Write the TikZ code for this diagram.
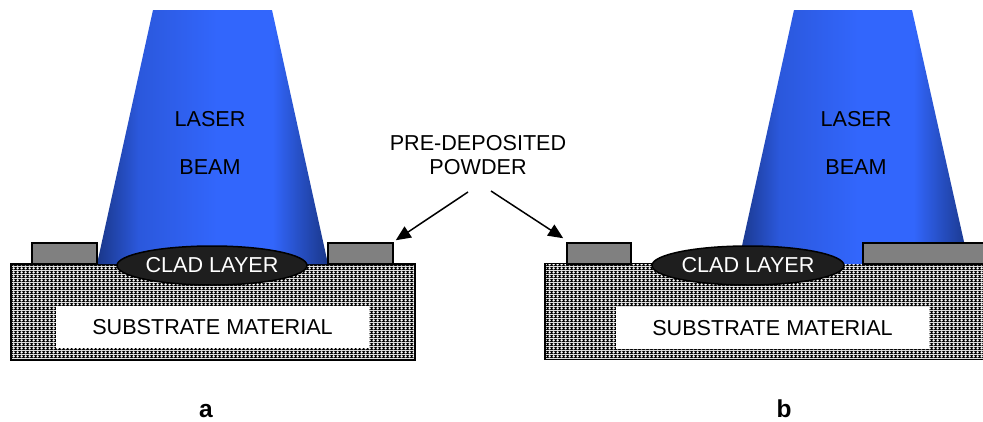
\documentclass[tikz,border=0pt]{standalone}
\usepackage{fontspec}
\setmainfont{Liberation Sans}
\usetikzlibrary{arrows.meta,patterns,shapes.geometric}

\definecolor{beamedge}{HTML}{1A3789}
\definecolor{beammid}{HTML}{2B58DC}
\definecolor{beamhot}{HTML}{3266FC}
\definecolor{powdergray}{HTML}{808080}
\definecolor{cladfill}{HTML}{1E1E1E}

% horizontal blue gradient across the beam cone
\pgfdeclarehorizontalshading{beamshade}{100bp}{%
  color(0bp)=(beamedge); color(25bp)=(beamedge); color(34bp)=(beammid);
  color(51bp)=(beamhot); color(63bp)=(beamhot); color(75bp)=(beamedge);
  color(100bp)=(beamedge)}

% grainy substrate texture: light crosses on black, 4pt tile
\pgfdeclarepatterninherentlycolored{subgrain}{\pgfpointorigin}{\pgfpoint{4pt}{4pt}}{\pgfpoint{4pt}{4pt}}{%
  \pgfsetfillcolor{black}%
  \pgfpathrectangle{\pgfpointorigin}{\pgfpoint{4pt}{4pt}}\pgfusepath{fill}%
  \pgfsetfillcolor{black!22}%
  \pgfpathrectangle{\pgfpoint{1.5pt}{0.5pt}}{\pgfpoint{1pt}{3pt}}%
  \pgfpathrectangle{\pgfpoint{0.5pt}{1.5pt}}{\pgfpoint{3pt}{1pt}}\pgfusepath{fill}%
  \pgfsetfillcolor{white}%
  \pgfpathrectangle{\pgfpoint{1.5pt}{1.5pt}}{\pgfpoint{1pt}{1pt}}\pgfusepath{fill}%
  \pgfsetfillcolor{black!55}%
  \pgfpathrectangle{\pgfpointorigin}{\pgfpoint{0.6pt}{0.6pt}}\pgfusepath{fill}%
}

\tikzset{
  lbl/.style={font=\fontsize{21.6}{24}\selectfont, inner sep=0pt, align=center},
  tag/.style={font=\fontsize{24.5}{26}\selectfont\bfseries, inner sep=0pt, anchor=base},
  substrate/.style={draw=black, line width=1.2pt, pattern=subgrain,
    inner sep=0pt, minimum height=96pt},
  hole/.style={fill=white, inner sep=0pt, minimum width=313pt, minimum height=42pt,
    font=\fontsize{21.6}{24}\selectfont},
  powder/.style={draw=black, line width=1.5pt, fill=powdergray, inner sep=0pt,
    minimum height=21pt},
  clad/.style={ellipse, draw=black, line width=1.5pt, fill=cladfill, inner sep=0pt,
    minimum height=39pt, text=white, font=\fontsize{21.6}{24}\selectfont},
  beam/.style={shading=beamshade},
  arr/.style={line width=1.5pt, -{Triangle[length=15pt,width=13pt]}}
}

\begin{document}
\begin{tikzpicture}[x=1pt, y=-1pt]
\useasboundingbox (0,0) rectangle (983,421);

% ---------- panel a ----------
\node[substrate, minimum width=404pt] (suba) at (213,312) {};
\path[beam] (153,10) -- (272,10) -- (328,264) -- (97,264) -- cycle;
\node[powder, minimum width=65pt] (pa1) at (64.5,253.5) {};
\node[powder, minimum width=65pt] (pa2) at (360.5,253.5) {};
\node[clad, minimum width=190pt] (clada) at (212,265.5) {CLAD LAYER};
\node[hole] (suba-txt) at (212.5,327) {SUBSTRATE MATERIAL};
\node[lbl] (lasera) at (210,119) {LASER};
\node[lbl] (beama) at (210,167.5) {BEAM};
\node[tag] (taga) at (206,417.5) {a};

% ---------- panel b ----------
\node[substrate, minimum width=440pt] (subb) at (765,311.5) {};
\path[beam] (794,10) -- (912,10) -- (969,264) -- (738,264) -- cycle;
\node[powder, minimum width=64pt] (pb1) at (599,253.5) {};
\node[powder, minimum width=122pt] (pb2) at (924,253.5) {};
\node[clad, minimum width=192pt] (cladb) at (748,265.5) {CLAD LAYER};
\node[hole] (subb-txt) at (772.5,328) {SUBSTRATE MATERIAL};
\node[lbl] (laserb) at (856,119) {LASER};
\node[lbl] (beamb) at (856,167.5) {BEAM};
\node[tag] (tagb) at (784,417.5) {b};

% ---------- powder callout ----------
\node[lbl] (powder-lbl) at (478,155.5) {PRE-DEPOSITED\\POWDER};
\coordinate (s1) at (468,192);
\coordinate (s2) at (491,191);
\draw[arr] (s1) -- ([shift={(2,-2)}]pa2.north east);
\draw[arr] (s2) -- ([shift={(-3,-4)}]pb1.north west);
\end{tikzpicture}
\end{document}
